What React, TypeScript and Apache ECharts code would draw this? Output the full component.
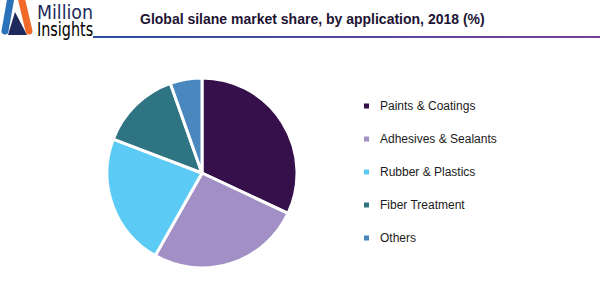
import React, { useEffect, useRef } from "react";
import * as echarts from "echarts";

const categories = [
  "Paints & Coatings",
  "Adhesives & Sealants",
  "Rubber & Plastics",
  "Fiber Treatment",
  "Others",
];
const shares = [32.0, 26.2, 22.6, 13.8, 5.4];
const colors = ["#36104a", "#a28fc5", "#5bcbf5", "#2e7482", "#4a87bf"];
const titleText = "Global silane market share, by application, 2018 (%)";

const logoFont = "'DejaVu Sans', sans-serif";

export default function App() {
  const ref = useRef<HTMLDivElement>(null);
  useEffect(() => {
    if (!ref.current) return;
    const chart = echarts.init(ref.current, undefined, { renderer: "svg" });
    chart.setOption({
      animation: false,
      color: colors,
      legend: {
        orient: "vertical",
        left: 357,
        top: 94,
        icon: "rect",
        itemWidth: 7,
        itemHeight: 7,
        itemGap: 19,
        selectedMode: false,
        data: categories,
        textStyle: {
          fontFamily: "Liberation Sans, Arial, sans-serif",
          fontSize: 12,
          color: "#1a1a1a",
          lineHeight: 14,
          padding: [0, 0, 0, 5],
        },
      },
      graphic: [
        {
          type: "polygon",
          shape: { points: [[15, 12], [8, 35], [27, 35]] },
          style: { fill: "#1e2a5c" },
        },
        {
          type: "line",
          shape: { x1: 11, y1: -3, x2: 5, y2: 31 },
          style: { stroke: "#2a72ba", lineWidth: 7, lineCap: "round" },
        },
        {
          type: "line",
          shape: { x1: 21, y1: -3, x2: 29, y2: 31 },
          style: { stroke: "#f26a2a", lineWidth: 7, lineCap: "round" },
        },
        {
          type: "text",
          x: 37,
          y: 2,
          scaleX: 0.87,
          style: {
            text: "Million",
            font: "20px " + logoFont,
            fill: "#1e2a5c",
            verticalAlign: "top",
          },
        },
        {
          type: "text",
          x: 37,
          y: 19,
          scaleX: 0.72,
          style: {
            text: "{b|In}{o|s}{b|ights}",
            verticalAlign: "top",
            rich: {
              b: { fontSize: 20, fontFamily: logoFont, color: "#1f75bf" },
              o: { fontSize: 20, fontFamily: logoFont, color: "#f26522" },
            },
          },
        },
        {
          type: "rect",
          shape: { x: 93, y: 36, width: 507, height: 2 },
          style: {
            fill: new echarts.graphic.LinearGradient(0, 0, 1, 0, [
              { offset: 0, color: "#2a4fa0" },
              { offset: 1, color: "#7a3f98" },
            ]),
          },
        },
        {
          type: "text",
          x: 140,
          y: 19,
          style: {
            text: titleText,
            font: "bold 14px 'Liberation Sans', Arial, sans-serif",
            fill: "#1e1433",
            verticalAlign: "middle",
          },
        },
      ],
      series: [
        {
          type: "pie",
          center: [202, 173],
          radius: 95,
          startAngle: 90,
          clockwise: true,
          label: { show: false },
          labelLine: { show: false },
          emphasis: { disabled: true },
          itemStyle: { borderColor: "#ffffff", borderWidth: 3 },
          data: categories.map((name, i) => ({ name, value: shares[i] })),
        },
      ],
    });
    return () => chart.dispose();
  }, []);
  return <div ref={ref} style={{ width: 600, height: 285, position: "absolute", left: 0, top: 0 }} />;
}
